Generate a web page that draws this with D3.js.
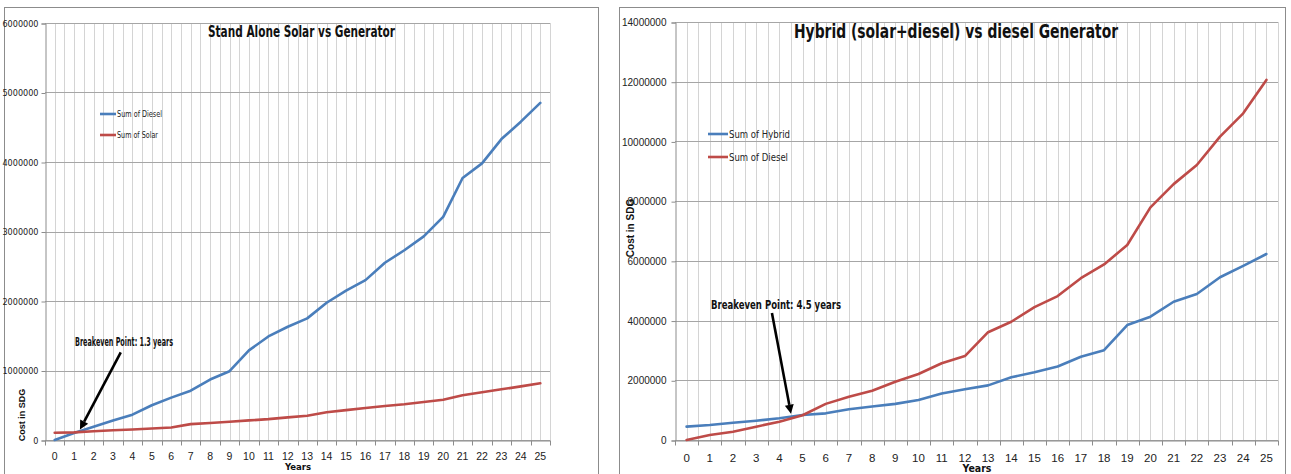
<!DOCTYPE html>
<html><head><meta charset="utf-8">
<script src="https://cdn.jsdelivr.net/npm/d3@7/dist/d3.min.js"></script>
<style>
html,body{margin:0;padding:0;background:#fff;}
svg{display:block;font-family:"Liberation Sans Narrow","DejaVu Sans Condensed","Liberation Sans",sans-serif;}
</style></head>
<body>
<svg id="c" width="1291" height="474"></svg>
<script>
// ---- data ----
const years = d3.range(0, 26);
const yearLabels = years.map(String);
// Chart 1: Stand Alone Solar vs Generator
const standAloneDiesel = [0, 100000, 190000, 280000, 365000, 500000, 610000, 710000, 870000, 990000,
  1290000, 1490000, 1630000, 1750000, 1975000, 2150000, 2300000, 2550000, 2730000, 2930000,
  3210000, 3770000, 3980000, 4330000, 4580000, 4850000];
const standAloneSolar = [105000, 110000, 125000, 140000, 150000, 165000, 180000, 228000, 245000, 262000,
  282000, 300000, 325000, 350000, 400000, 430000, 460000, 490000, 515000, 547000,
  580000, 643000, 686000, 729000, 772000, 816000];
const leftTicks = [0, 1000000, 2000000, 3000000, 4000000, 5000000, 6000000];
// Chart 2: Hybrid (solar+diesel) vs diesel Generator
const hybridCost = [447000, 503000, 580000, 647000, 727000, 837000, 893000, 1030000, 1120000, 1210000,
  1340000, 1560000, 1700000, 1830000, 2100000, 2270000, 2460000, 2790000, 3010000, 3850000,
  4130000, 4630000, 4890000, 5450000, 5830000, 6230000];
const hybridDiesel = [0, 167000, 279000, 447000, 614000, 830000, 1210000, 1450000, 1650000, 1950000,
  2210000, 2570000, 2810000, 3610000, 3960000, 4450000, 4820000, 5420000, 5880000, 6530000,
  7790000, 8570000, 9210000, 10160000, 10940000, 12060000];
const rightTicks = [0, 2000000, 4000000, 6000000, 8000000, 10000000, 12000000, 14000000];

const BLUE = "#4A7EBB", RED = "#BE4B48";
const svg = d3.select("#c");

function drawChart(o) {
  const g = svg.append("g");
  // outer frame
  g.append("rect").attr("x", o.frame[0] + 0.5).attr("y", o.frame[1] + 0.5)
    .attr("width", o.frame[2]).attr("height", o.frame[3])
    .attr("fill", "#fff").attr("stroke", "#8c8c8c").attr("stroke-width", 1);

  const x = d3.scaleBand().domain(o.cats).range([o.plot.x0, o.plot.x1]).padding(0);
  const y = d3.scaleLinear().domain([0, o.ymax]).range([o.plot.y1, o.plot.y0]);
  const step = x.step();
  const cx = d => x(d) + step / 2;
  const xv = v => x(o.cats[0]) + step * (v + 0.5); // continuous year position

  // vertical gridlines (boundaries + centers)
  const vlines = [];
  o.cats.forEach(c => { vlines.push(x(c)); vlines.push(cx(c)); });
  vlines.push(o.plot.x1);
  g.append("g").selectAll("line").data(vlines.slice(1)).join("line")
    .attr("x1", d => Math.round(d) + 0.5).attr("x2", d => Math.round(d) + 0.5)
    .attr("y1", o.plot.y0).attr("y2", o.plot.y1)
    .attr("stroke", "#d4d4d4").attr("stroke-width", 1);
  // horizontal major gridlines
  g.append("g").selectAll("line").data(o.ticks).join("line")
    .attr("x1", o.plot.x0).attr("x2", o.plot.x1)
    .attr("y1", d => Math.round(y(d)) + 0.5).attr("y2", d => Math.round(y(d)) + 0.5)
    .attr("stroke", "#a6a6a6").attr("stroke-width", 1);

  // y axis
  const ya = d3.axisLeft(y).tickValues(o.ticks).tickSize(4).tickPadding(o.yPad).tickFormat(d3.format("d"));
  const yg = g.append("g").attr("transform", `translate(${Math.round(o.plot.x0) + 0.5},0.5)`).call(ya);
  yg.select(".domain").attr("stroke", "#8c8c8c");
  yg.selectAll(".tick line").attr("stroke", "#8c8c8c");
  yg.selectAll("text").attr("font-size", o.yFont).attr("fill", "#222").style("font-family", o.yFamily);

  // x axis
  const xa = d3.axisBottom(x).tickValues([]).tickSize(0);
  const xg = g.append("g").attr("transform", `translate(0,${Math.round(o.plot.y1) + 0.5})`).call(xa);
  xg.select(".domain").attr("stroke", "#8c8c8c");
  xg.append("g").selectAll("line").data(o.cats.concat(["end"])).join("line")
    .attr("x1", d => Math.round(d === "end" ? o.plot.x1 : x(d)) + 0.5)
    .attr("x2", d => Math.round(d === "end" ? o.plot.x1 : x(d)) + 0.5)
    .attr("y1", 0).attr("y2", 5).attr("stroke", "#8c8c8c");
  xg.append("g").selectAll("text").data(o.labels).join("text")
    .attr("x", (d, i) => cx(o.cats[i])).attr("y", o.xLabelDy)
    .attr("text-anchor", "middle").attr("font-size", o.xFont).attr("fill", "#222").text(d => d);

  // series lines
  const line = d3.line().x((d, i) => cx(o.cats[i])).y(d => y(d));
  o.series.forEach(s => {
    g.append("path").datum(s.values).attr("d", line)
      .attr("fill", "none").attr("stroke", s.color).attr("stroke-width", 2.6)
      .attr("stroke-linejoin", "round").attr("stroke-linecap", "round");
  });

  // legend
  o.series.forEach((s, i) => {
    const ly = o.legend.y + i * o.legend.dy;
    g.append("line").attr("x1", o.legend.x).attr("x2", o.legend.x + o.legend.len)
      .attr("y1", ly).attr("y2", ly).attr("stroke", s.color).attr("stroke-width", 2.6);
    const t = g.append("text").attr("x", o.legend.x + o.legend.len + 1).attr("y", ly).attr("dy", "0.35em")
      .attr("font-size", o.legend.font).attr("fill", "#222").text(s.name);
    if (o.legend.widths) t.attr("textLength", o.legend.widths[i]).attr("lengthAdjust", "spacingAndGlyphs");
  });

  // title
  g.append("text").attr("x", o.title.x).attr("y", o.title.y).attr("font-size", o.title.size)
    .attr("font-weight", "bold").attr("fill", "#111").attr("textLength", o.title.len)
    .attr("lengthAdjust", "spacingAndGlyphs").text(o.title.text);

  // axis titles
  g.append("text").attr("transform", `translate(${o.ytitle.x},${o.ytitle.y}) rotate(-90)`)
    .attr("text-anchor", "middle").attr("dy", "0.35em").attr("font-size", o.ytitle.size)
    .attr("font-weight", "bold").attr("fill", "#111")
    .style("font-family", "'Liberation Sans','DejaVu Sans',sans-serif").text("Cost in SDG");
  g.append("text").attr("x", o.xtitle.x).attr("y", o.xtitle.y).attr("text-anchor", "middle")
    .attr("font-size", o.xtitle.size).attr("font-weight", "bold").attr("fill", "#111").text("Years");

  // annotation
  const a = o.annot;
  g.append("text").attr("x", a.tx).attr("y", a.ty).attr("font-size", a.size).attr("font-weight", "bold")
    .attr("fill", "#111").attr("textLength", a.len).attr("lengthAdjust", "spacingAndGlyphs").text(a.text);
  const x1 = xv(a.fromYear), y1 = y(a.fromVal), x2 = xv(a.toYear), y2 = y(a.toVal);
  const ang = Math.atan2(y2 - y1, x2 - x1);
  const hl = 9, hw = 4.5;
  const bx = x2 - hl * Math.cos(ang), by = y2 - hl * Math.sin(ang);
  g.append("line").attr("x1", x1).attr("y1", y1).attr("x2", bx).attr("y2", by)
    .attr("stroke", "#000").attr("stroke-width", 2.6);
  g.append("path").attr("d", `M${x2},${y2}L${bx + hw * Math.sin(ang)},${by - hw * Math.cos(ang)}L${bx - hw * Math.sin(ang)},${by + hw * Math.cos(ang)}Z`)
    .attr("fill", "#000");
}

drawChart({
  frame: [4, 7, 594, 480],
  plot: { x0: 45, x1: 550, y0: 23, y1: 440 },
  cats: years, labels: yearLabels, ymax: 6000000, ticks: leftTicks,
  yFont: 9, yPad: 3, yFamily: "'Liberation Sans Narrow','DejaVu Sans Condensed',sans-serif",
  xFont: 10.5, xLabelDy: 19,
  series: [{ name: "Sum of Diesel", values: standAloneDiesel, color: BLUE },
           { name: "Sum of Solar", values: standAloneSolar, color: RED }],
  legend: { x: 100, y: 114, dy: 21, len: 16, font: 9.5, widths: [45, 41] },
  title: { text: "Stand Alone Solar vs Generator", x: 208, y: 37, size: 16, len: 187 },
  ytitle: { x: 22, y: 415, size: 9 },
  xtitle: { x: 298, y: 470, size: 9.5 },
  annot: { text: "Breakeven Point: 1.3 years", tx: 75, ty: 346, size: 11.5, len: 98,
           fromYear: 3.4, fromVal: 1260000, toYear: 1.3, toVal: 150000 }
});

drawChart({
  frame: [619, 7, 666, 480],
  plot: { x0: 675, x1: 1278, y0: 22, y1: 440 },
  cats: years, labels: yearLabels, ymax: 14000000, ticks: rightTicks,
  yFont: 10, yPad: 5, yFamily: "'Liberation Sans','DejaVu Sans',sans-serif",
  xFont: 11.5, xLabelDy: 21,
  series: [{ name: "Sum of Hybrid", values: hybridCost, color: BLUE },
           { name: "Sum of Diesel", values: hybridDiesel, color: RED }],
  legend: { x: 708, y: 134, dy: 23, len: 20, font: 11, widths: [61, 59] },
  title: { text: "Hybrid (solar+diesel) vs diesel Generator", x: 794, y: 38, size: 19, len: 324 },
  ytitle: { x: 630, y: 228, size: 10 },
  xtitle: { x: 977, y: 472, size: 10.5 },
  annot: { text: "Breakeven Point: 4.5 years", tx: 711, ty: 309, size: 13, len: 130,
           fromYear: 3.68, fromVal: 4250000, toYear: 4.5, toVal: 880000 }
});
</script>
</body></html>
